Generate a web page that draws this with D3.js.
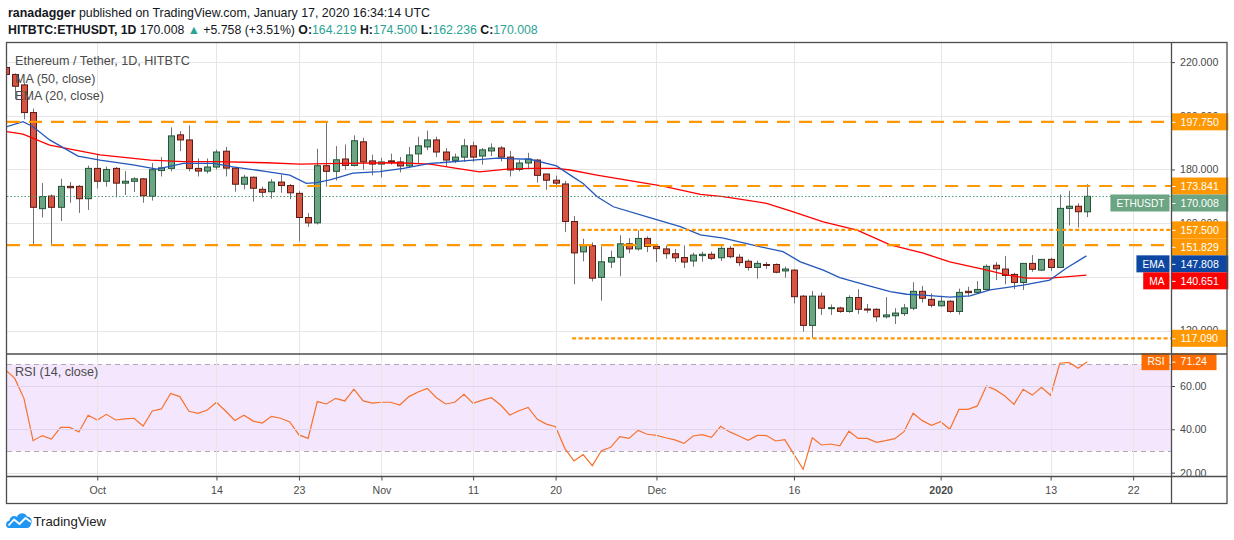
<!DOCTYPE html>
<html><head><meta charset="utf-8">
<script src="https://cdn.jsdelivr.net/npm/d3@7"></script>
<style>
body{margin:0;background:#fff;}
svg{display:block;font-family:"Liberation Sans",Arial,sans-serif;}
</style>
</head><body><svg id="c" width="1234" height="540"></svg>
<script>
// ---------------- DATA ----------------
const firstDay = "2019-09-21";           // first daily candle (index 0)
const opens = [218.0,215.4,211.5,201.2,165.4,170.1,165.9,173.7,173.7,169.1,
 180.4,175.6,180.4,174.9,175.6,176.5,170.0,179.6,180.4,192.9,
 191.0,180.4,179.4,180.9,186.8,180.5,174.5,177.1,172.6,171.7,
 175.3,174.0,171.1,162.1,160.1,181.4,179.3,183.9,181.5,190.3,
 183.2,182.0,183.2,182.8,181.3,185.8,188.4,191.0,186.5,183.4,
 184.6,188.8,185.0,186.9,188.0,184.6,180.0,182.4,183.5,178.3,
 176.0,174.6,160.6,149.3,151.6,139.8,145.5,147.3,152.3,150.4,
 154.3,151.3,150.4,148.6,147.2,145.9,147.9,148.4,147.1,150.6,
 147.3,145.8,143.5,144.6,144.6,142.2,142.5,132.8,121.9,132.8,
 128.3,128.4,127.1,132.3,128.0,127.9,125.1,125.5,126.3,128.3,
 134.6,131.6,129.2,130.9,127.1,134.6,134.2,135.3,144.3,142.9,
 140.9,137.9,145.0,142.5,146.5,143.5,165.5,166.3,164.219];
const highs = [219.5,215.8,212.2,202.7,174.9,170.7,176.5,175.3,174.2,181.4,
 185.5,181.1,180.9,179.4,177.1,176.8,182.4,184.6,195.7,194.3,
 196.4,184.1,184.1,187.4,188.4,180.9,178.0,177.4,173.6,176.4,
 178.0,174.6,171.9,163.8,187.7,198.0,188.7,189.3,192.7,191.8,
 185.5,184.3,185.9,184.6,188.4,192.2,194.5,192.2,188.0,185.9,
 191.4,190.3,188.0,189.7,188.7,186.9,183.6,186.2,183.9,178.3,
 177.7,175.75,162.6,154.2,152.8,151.3,149.8,155.5,154.45,157.3,
 155.1,152.3,151.7,150.4,151.7,149.0,149.4,149.4,151.9,151.5,
 148.5,146.5,146.0,145.5,145.0,143.8,142.9,133.2,134.7,134.1,
 129.7,128.9,133.1,135.4,129.9,128.3,132.4,128.3,129.9,138.0,
 136.6,133.8,133.0,131.3,135.6,136.3,138.4,144.6,145.5,147.8,
 141.5,145.0,148.1,146.5,147.1,170.7,172.0,167.4,174.5];
const lows = [213.0,206.2,198.7,151.6,162.1,152.1,160.8,167.6,163.8,164.9,
 172.9,173.6,169.6,170.5,171.6,167.6,168.4,177.4,179.3,186.8,
 179.3,177.4,178.5,180.0,177.4,171.7,172.6,168.0,169.6,169.1,
 171.3,168.9,153.2,158.6,159.5,173.6,175.9,179.9,181.1,179.9,
 177.8,177.0,181.8,178.9,180.5,182.4,187.2,184.6,181.1,182.4,
 182.8,182.8,181.8,185.0,183.0,177.4,179.3,180.1,175.1,172.4,
 173.25,156.7,137.2,145.8,138.3,131.1,143.3,140.2,148.8,149.8,
 149.2,145.5,146.7,145.5,143.3,143.8,145.6,146.3,145.9,146.9,
 144.0,142.3,139.3,143.0,141.3,139.7,130.1,119.6,117.3,125.8,
 125.8,126.6,126.6,126.1,126.6,123.3,124.5,122.4,125.4,127.6,
 130.4,128.6,128.9,126.6,125.9,132.6,133.8,135.1,138.8,137.2,
 135.4,135.1,141.9,142.2,142.2,143.5,159.1,158.4,162.236];
const closes = [215.4,211.0,201.2,165.9,169.9,165.9,173.7,173.2,169.1,180.4,
 175.6,180.0,174.9,175.6,176.5,170.2,179.9,180.6,192.5,191.0,
 180.4,179.4,180.9,186.5,180.5,174.5,177.1,173.0,171.5,175.3,
 174.0,171.3,162.1,160.1,181.4,179.3,183.6,181.5,190.7,182.8,
 182.0,182.8,182.8,181.3,185.4,188.8,191.0,186.5,183.5,184.6,
 188.8,184.6,187.3,188.0,184.6,179.8,182.4,183.9,177.8,176.0,
 174.9,160.6,148.9,151.6,139.5,145.6,147.2,152.3,150.4,154.3,
 151.3,150.5,148.6,147.1,145.5,148.1,148.4,146.9,150.6,147.5,
 145.3,143.5,145.0,144.4,141.7,142.9,132.6,121.9,132.8,128.3,
 128.5,127.1,132.3,127.9,127.8,125.1,125.8,126.5,128.4,134.6,
 132.0,129.4,130.9,127.1,134.2,134.1,135.3,143.9,143.0,140.5,
 137.9,145.0,142.8,146.5,143.5,165.5,166.3,164.25,170.008];

// RSI (14, close), one value per candle
const rsiValues = [67.4,63.5,54.3,34.75,37.1,35.5,40.9,40.9,38.75,46.5,
 44.3,46.9,44.3,44.8,45.1,41.5,48.45,49.4,56.6,55.1,
 48.3,47.4,48.9,52.5,48.45,44.1,46.5,43.8,42.9,46.0,
 45.1,43.4,37.4,35.8,52.8,51.7,54.3,53.1,58.5,53.1,
 52.1,52.5,52.5,51.2,55.1,57.2,58.9,54.6,51.7,52.5,
 56.2,52.0,53.5,54.6,51.2,46.6,48.6,50.1,44.6,42.4,
 41.2,31.2,25.4,28.3,23.2,30.1,31.7,36.6,35.8,39.5,
 37.7,37.2,36.1,35.1,33.5,36.9,37.5,36.3,41.4,38.8,
 36.9,34.9,37.2,37.1,34.6,35.2,28.4,21.5,36.1,32.75,
 33.2,32.4,39.1,35.8,35.8,34.0,34.75,35.7,38.9,47.4,
 44.0,41.8,43.5,40.0,49.2,49.2,50.8,60.0,58.2,55.4,
 51.5,58.5,55.8,59.4,55.7,70.5,70.9,68.2,71.24];

// EMA (20) read at points: day offsets from firstDay, values
const emaDays = [0.1,1.9,3.0,4.8,7.9,10.3,13.9,16.5,19.4,22.7,24.8,28.5,31.0,32.8,33.9,35.4,37.9,40.8,43.4,46.3,47.4,51.0,53.6,57.2,60.1,61.6,63.0,64.5,66.3,69.9,73.6,75.8,78.3,81.9,84.8,86.7,89.2,91.0,93.9,96.5,98.3,100.1,103.0,105.2,107.4,111.0,113.9,115.7,117.9];
const emaValues = [195.9,197.8,195.9,191.0,185.0,183.5,181.7,180.1,182.3,182.3,181.0,179.2,177.9,174.8,175.1,176.1,178.6,179.2,180.4,182.3,182.5,183.5,184.2,183.8,181.3,177.9,174.8,169.9,166.1,162.4,158.7,155.6,154.4,151.5,149.4,145.6,142.5,139.7,136.9,134.5,133.5,133.2,132.4,132.9,135.1,136.9,138.8,143.2,147.8];
// MA (50) read at points
const maDays = [0.1,1.9,4.8,10.3,15.8,19.4,23.0,28.5,32.1,36.5,42.7,46.3,49.2,51.7,54.7,57.2,60.1,61.6,64.5,68.1,71.7,75.8,78.3,83.0,85.6,89.2,92.9,96.5,100.1,103.0,106.7,109.2,111.4,113.9,117.9];
const maValues = [194.1,193.2,189.1,185.4,183.5,182.9,182.9,182.5,182.0,182.3,182.5,182.0,180.4,179.1,180.1,180.4,180.4,179.8,177.9,175.8,173.8,170.7,169.9,167.4,164.6,160.5,157.4,151.9,148.8,145.6,142.8,140.7,139.5,139.5,140.6];
const emaLast = 147.808, maLast = 140.651;

// horizontal levels drawn on the chart, and the day offset where each starts
const levelValues = [197.75, 173.841, 157.5, 151.829, 117.09];
const levelStartDays = [-2, 32.9, 62.8, -2, 61.8];

const priceTicks = [120, 140, 160, 180, 200, 220];
const rsiTicks = [20, 40, 60];
const rsiBand = [30, 70];
const dateTicks = ["2019-10-01","2019-10-14","2019-10-23","2019-11-01","2019-11-11","2019-11-20","2019-12-01","2019-12-16","2020-01-01","2020-01-13","2020-01-22"];
const dateTickLabels = ["Oct","14","23","Nov","11","20","Dec","16","2020","13","22"];

// ---------------- DRAWING ----------------
const svg = d3.select("#c");
const L = 7, R = 1171, RA = 1227, mainTop = 43, mainBot = 354, rsiBot = 476.5, axisBot = 503.5;
const day0 = Date.parse(firstDay + "T00:00:00Z");
const toDate = d => new Date(day0 + d * 864e5);
const n = closes.length;

const x = d3.scaleUtc().domain([toDate(0), toDate(n - 1)]).range([5.6, 1087.3]);
const y = d3.scaleLinear().domain([120, 220]).range([330.5, 62.1]);
const yr = d3.scaleLinear().domain([20, 60]).range([472.6, 386]);

const candles = closes.map((c, i) => ({date: toDate(i), o: opens[i], h: highs[i], l: lows[i], c}));

svg.append("rect").attr("width", 1234).attr("height", 540).attr("fill", "#fff");

const defs = svg.append("defs");
defs.append("clipPath").attr("id", "clipMain").append("rect")
  .attr("x", L).attr("y", mainTop).attr("width", R - L).attr("height", mainBot - mainTop);
defs.append("clipPath").attr("id", "clipRsi").append("rect")
  .attr("x", L).attr("y", mainBot).attr("width", R - L).attr("height", rsiBot - mainBot);
defs.append("clipPath").attr("id", "clipRsiAxis").append("rect")
  .attr("x", R).attr("y", mainBot).attr("width", 60).attr("height", rsiBot - mainBot);

const tickDates = dateTicks.map(s => new Date(s + "T00:00:00Z"));
const gridColor = "#e6e6e6";

// RSI band
const rsiG = svg.append("g").attr("clip-path", "url(#clipRsi)");
rsiG.append("rect").attr("x", L).attr("width", R - L)
  .attr("y", yr(rsiBand[1])).attr("height", yr(rsiBand[0]) - yr(rsiBand[1]))
  .attr("fill", "#f3e6fd");

// grids
const gridG = svg.append("g");
gridG.selectAll("line.v").data(tickDates).join("line")
  .attr("x1", d => Math.round(x(d)) + 0.5).attr("x2", d => Math.round(x(d)) + 0.5)
  .attr("y1", mainTop).attr("y2", rsiBot).attr("stroke", gridColor);
gridG.append("g").attr("clip-path", "url(#clipMain)").selectAll("line").data(priceTicks).join("line")
  .attr("x1", L).attr("x2", R).attr("y1", d => Math.round(y(d)) + 0.5).attr("y2", d => Math.round(y(d)) + 0.5)
  .attr("stroke", gridColor);
gridG.append("g").attr("clip-path", "url(#clipRsi)").selectAll("line").data(rsiTicks).join("line")
  .attr("x1", L).attr("x2", R).attr("y1", d => Math.round(yr(d)) + 0.5).attr("y2", d => Math.round(yr(d)) + 0.5)
  .attr("stroke", d => d === 20 ? gridColor : "#e0d4ec");

// RSI band dashed borders
rsiG.selectAll("line.band").data(rsiBand).join("line")
  .attr("x1", L).attr("x2", R).attr("y1", d => Math.round(yr(d)) + 0.5).attr("y2", d => Math.round(yr(d)) + 0.5)
  .attr("stroke", "#b0aab8").attr("stroke-dasharray", "5,4");

// RSI line
rsiG.append("path").datum(rsiValues)
  .attr("d", d3.line().x((d, i) => x(toDate(i))).y(d => yr(d)))
  .attr("fill", "none").attr("stroke", "#f7722c").attr("stroke-width", 1.2);

// main pane
const mainG = svg.append("g").attr("clip-path", "url(#clipMain)");

// candles
const cg = mainG.append("g");
cg.selectAll("line.wick").data(candles).join("line")
  .attr("x1", d => Math.round(x(d.date)) + 0.5).attr("x2", d => Math.round(x(d.date)) + 0.5)
  .attr("y1", d => y(d.h)).attr("y2", d => y(d.l))
  .attr("stroke", "#737375").attr("stroke-width", 1);
cg.selectAll("rect.body").data(candles).join("rect")
  .attr("x", d => Math.round(x(d.date)) - 2.5)
  .attr("width", 6)
  .attr("y", d => y(Math.max(d.o, d.c)))
  .attr("height", d => Math.max(1, Math.abs(y(d.o) - y(d.c))))
  .attr("fill", d => d.c >= d.o ? "#6ba583" : "#d75442")
  .attr("stroke", d => d.c >= d.o ? "#225437" : "#5b1a13")
  .attr("stroke-width", 1);

// MA and EMA lines
mainG.append("path").datum(maDays.map((d, i) => [toDate(d), maValues[i]]))
  .attr("d", d3.line().x(d => x(d[0])).y(d => y(d[1])))
  .attr("fill", "none").attr("stroke", "#ff0000").attr("stroke-width", 1.3);
mainG.append("path").datum(emaDays.map((d, i) => [toDate(d), emaValues[i]]))
  .attr("d", d3.line().x(d => x(d[0])).y(d => y(d[1])))
  .attr("fill", "none").attr("stroke", "#2457bb").attr("stroke-width", 1.3);

// last price line
const lastClose = closes[n - 1];
mainG.append("line").attr("x1", L).attr("x2", R)
  .attr("y1", Math.round(y(lastClose)) + 0.5).attr("y2", Math.round(y(lastClose)) + 0.5)
  .attr("stroke", "#4e9a6e").attr("stroke-dasharray", "1.5,2").attr("stroke-width", 1);

// levels
const dottedLevels = new Set([2, 4]);
mainG.selectAll("line.level").data(levelValues).join("line")
  .attr("x1", (d, i) => Math.max(L, x(toDate(levelStartDays[i])))).attr("x2", R)
  .attr("y1", d => y(d)).attr("y2", d => y(d))
  .attr("stroke", "#ff9800").attr("stroke-width", 2.2)
  .attr("stroke-dasharray", (d, i) => dottedLevels.has(i) ? "4,2.5" : "13,9");

// legend texts
const legend = svg.append("g").attr("fill", "#4a4a4a").attr("font-size", 12.6);
legend.append("text").attr("x", 15).attr("y", 65).text("Ethereum / Tether, 1D, HITBTC");
legend.append("text").attr("x", 15).attr("y", 82.5).text("MA (50, close)");
legend.append("text").attr("x", 15).attr("y", 99.5).text("EMA (20, close)");
svg.append("text").attr("x", 15).attr("y", 376).attr("fill", "#4a4a4a").attr("font-size", 12.6).text("RSI (14, close)");

// price axis
const axisFont = 10.6;
const pAxis = svg.append("g").attr("transform", `translate(${R},0)`)
  .call(d3.axisRight(y).tickValues(priceTicks).tickFormat(d3.format(".3f")).tickSize(4).tickPadding(5));
pAxis.select(".domain").remove();
pAxis.selectAll("line").attr("stroke", "#4a4a4a");
pAxis.selectAll("text").attr("fill", "#4a4a4a").attr("font-size", axisFont).attr("font-family", "Liberation Sans, Arial, sans-serif");

const rAxis = svg.append("g").attr("clip-path", "url(#clipRsiAxis)").append("g").attr("transform", `translate(${R},0)`)
  .call(d3.axisRight(yr).tickValues(rsiTicks).tickFormat(d3.format(".2f")).tickSize(4).tickPadding(5));
rAxis.select(".domain").remove();
rAxis.selectAll("line").attr("stroke", "#4a4a4a");
rAxis.selectAll("text").attr("fill", "#4a4a4a").attr("font-size", axisFont).attr("font-family", "Liberation Sans, Arial, sans-serif");

// time axis
const xAxis = svg.append("g").attr("transform", `translate(0,${rsiBot})`)
  .call(d3.axisBottom(x).tickValues(tickDates).tickFormat((d, i) => dateTickLabels[i]).tickSize(4).tickPadding(6));
xAxis.select(".domain").remove();
xAxis.selectAll("line").attr("stroke", "#4a4a4a");
xAxis.selectAll("text").attr("fill", "#4a4a4a").attr("font-size", axisFont)
  .attr("font-family", "Liberation Sans, Arial, sans-serif")
  .attr("font-weight", (d, i) => dateTickLabels[i] === "2020" ? "bold" : null);

// value labels on the right axis
function valueBox(yc, txt, color, name, nameColor) {
  const g = svg.append("g");
  const t = g.append("text").attr("x", R + 9.5).attr("y", yc + 3.8).attr("fill", "#fff")
    .attr("font-size", axisFont).text(txt);
  const w = t.node().getComputedTextLength() + 18.5;
  g.insert("rect", "text").attr("x", R + 0.5).attr("y", yc - 8.5).attr("width", w).attr("height", 17).attr("fill", color);
  g.append("line").attr("x1", R + 0.5).attr("x2", R + 4.5).attr("y1", yc + 0.5).attr("y2", yc + 0.5).attr("stroke", "#fff");
  if (name) {
    const t2 = g.append("text").attr("y", yc + 3.8).attr("fill", "#fff").attr("font-size", 10.2)
      .attr("text-anchor", "end").attr("x", R - 6.5).text(name);
    const w2 = t2.node().getComputedTextLength() + 11;
    g.insert("rect", "text").attr("x", R - 1.5 - w2).attr("y", yc - 8.5).attr("width", w2).attr("height", 17).attr("fill", nameColor || color);
  }
}
const labels = [
  {v: levelValues[0], c: "#ff9800"},
  {v: levelValues[1], c: "#ff9800"},
  {v: lastClose, c: "#6ba583", name: "ETHUSDT"},
  {v: levelValues[2], c: "#ff9800"},
  {v: levelValues[3], c: "#ff9800"},
  {v: emaLast, c: "#0d47a1", name: "EMA"},
  {v: maLast, c: "#ff0000", name: "MA"},
  {v: levelValues[4], c: "#ff9800"}
].sort((a, b) => b.v - a.v);
let prevY = -Infinity;
labels.forEach(lb => {
  let yy = y(lb.v);
  if (yy < prevY + 17) yy = prevY + 17;
  prevY = yy;
  valueBox(yy, d3.format(".3f")(lb.v), lb.c, lb.name);
});
const rsiLast = rsiValues[n - 1];
valueBox(yr(rsiLast), d3.format(".2f")(rsiLast), "#ff6d00", "RSI");

// frames / separators
const frame = svg.append("g").attr("stroke", "#4d4d4d").attr("fill", "none").attr("stroke-width", 1.3);
frame.append("rect").attr("x", 6.5).attr("y", 42.5).attr("width", RA - 6.5).attr("height", axisBot - 42.5);
frame.append("line").attr("x1", 6.5).attr("x2", RA).attr("y1", mainBot).attr("y2", mainBot);
frame.append("line").attr("x1", 6.5).attr("x2", RA).attr("y1", rsiBot).attr("y2", rsiBot);
frame.append("line").attr("x1", R + 0.5).attr("x2", R + 0.5).attr("y1", 42.5).attr("y2", axisBot);

// header
const prevClose = closes[n - 2];
const chg = lastClose - prevClose;
const teal = "#2aa395";
const h1 = svg.append("text").attr("x", 8).attr("y", 17).attr("font-size", 12.4).attr("fill", "#131722");
h1.append("tspan").attr("font-weight", "bold").text("ranadagger");
h1.append("tspan").text(" published on TradingView.com, January 17, 2020 16:34:14 UTC");
const h2 = svg.append("text").attr("x", 8).attr("y", 34).attr("font-size", 12.3).attr("fill", "#131722");
h2.append("tspan").attr("font-weight", "bold").text("HITBTC:ETHUSDT, 1D");
h2.append("tspan").text("  " + d3.format(".3f")(lastClose) + " ");
h2.append("tspan").attr("fill", teal).text("▲");
h2.append("tspan").text(" " + d3.format("+.3f")(chg) + " (" + d3.format("+.2f")(chg / prevClose * 100) + "%) ");
[["O:", opens[n - 1]], ["H:", highs[n - 1]], ["L:", lows[n - 1]], ["C:", lastClose]].forEach(([k, v], i) => {
  h2.append("tspan").attr("font-weight", "bold").text((i ? " " : "") + k);
  h2.append("tspan").attr("fill", teal).text(d3.format(".3f")(v));
});

// TradingView logo
const logo = svg.append("g");
logo.append("path").attr("fill", "#2196f3")
  .attr("d", "M9,528 C5,528 5,521 9.5,520.5 C10,516.5 14,515 17,517 C18.5,512.5 25,512 27,516.5 C31,516.5 33,521 31,524 C30.5,526.5 29,528 27,528 Z");
logo.append("polyline").attr("points", "8.5,525.5 14,519.5 19.5,524 25.5,518 31,522")
  .attr("fill", "none").attr("stroke", "#fff").attr("stroke-width", 1.8).attr("stroke-linejoin", "round");
svg.append("text").attr("x", 33.5).attr("y", 526).attr("font-size", 13.2).attr("fill", "#222").text("TradingView");
</script>
</body></html>
